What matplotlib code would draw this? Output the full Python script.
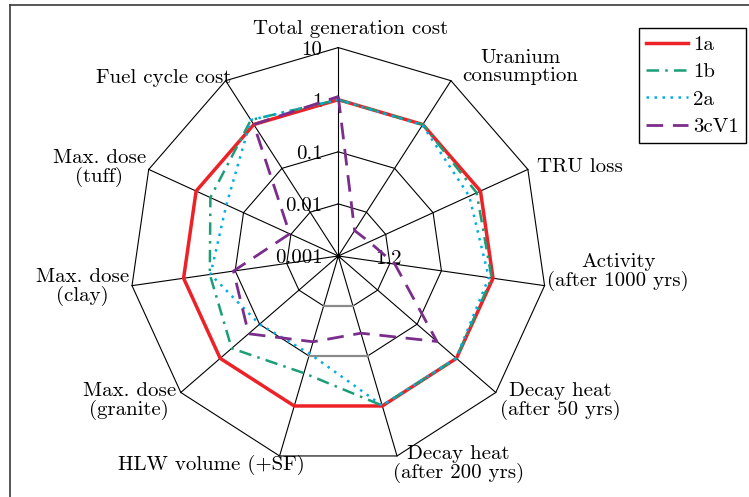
import numpy as np
import matplotlib
matplotlib.use('Agg')
import matplotlib.pyplot as plt

# axes of the spider chart, clockwise from the top
categories = ['Total generation cost', 'Uranium\nconsumption', 'TRU loss',
              'Activity\n(after 1000 yrs)', 'Decay heat\n(after 50 yrs)',
              'Decay heat\n(after 200 yrs)', 'HLW volume (+SF)',
              'Max. dose\n(granite)', 'Max. dose\n(clay)', 'Max. dose\n(tuff)',
              'Fuel cycle cost']

series_names = ['1a', '1b', '2a', '3cV1']
vals_1a = [1.0, 1.0, 1.0, 1.0, 1.0, 1.0, 1.0, 1.0, 1.0, 1.0, 1.0]
vals_1b = [1.0, 1.0, 0.83, 0.94, 1.0, 0.98, 0.22, 0.51, 0.31, 0.5, 1.27]
vals_2a = [1.0, 0.97, 0.58, 0.83, 0.98, 0.98, 0.09, 0.1, 0.3, 0.23, 1.27]
vals_3cV1 = [1.15, 0.0038, 0.0045, 0.0125, 0.32, 0.035, 0.052, 0.19, 0.108, 0.0106, 1.0]

ring_values = [10, 0.1, 0.01]
tick_values = [10, 1, 0.1, 0.01, 0.001]
tick_labels = ['10', '1', '0.1', '0.01', '0.001']

# label centres (pixels relative to chart centre, y up)
label_xy = [(12, 227), (182, 189), (242, 89), (280, -16), (222, -145),
            (120, -208), (-127, -209), (-209, -145), (-256, -31),
            (-239, 88), (-175, 178)]

colors = ['#ec2227', '#1b9e77', '#00aee6', '#7b2d8b']
widths = [2.5, 1.8, 1.8, 2.0]
dashes = [(None), (5, 2.5, 1, 2.5), (1, 2.2), (6, 3.5)]

DEC = 52.1      # pixels per decade
VMIN = 0.001    # value at the centre
FS = 15

def radius(v):
    return DEC * (np.log10(v) - np.log10(VMIN))

n = len(categories)
theta = np.pi / 2 - 2 * np.pi * np.arange(n) / n

def to_xy(values):
    r = radius(np.asarray(values, dtype=float))
    x = r * np.cos(theta)
    y = r * np.sin(theta)
    return np.append(x, x[0]), np.append(y, y[0])

plt.rcParams['font.family'] = ['cmr10', 'DejaVu Serif']
plt.rcParams['axes.unicode_minus'] = False

fig = plt.figure(figsize=(7.49, 4.97), dpi=100)
# axes box: top/left border visible, right/bottom run off the figure
ax = fig.add_axes([10 / 749, -10 / 497, 754 / 749, 502 / 497])
ax.set_xlim(-328.3, 425.7)
ax.set_ylim(-251, 251)
ax.set_xticks([])
ax.set_yticks([])
for s in ax.spines.values():
    s.set_linewidth(1.2)
    s.set_color('#3a3a3a')

# rings
for rv in ring_values:
    gx, gy = to_xy([rv] * n)
    ax.plot(gx, gy, color='black', lw=0.8, zorder=1)
# grey ring pieces between HLW volume and Decay heat (200 yrs)
for rv in [0.1, 0.01]:
    gx, gy = to_xy([rv] * n)
    ax.plot(gx[5:7], gy[5:7], color='#8a8a8a', lw=1.6, zorder=1.5)

# spokes
R = radius(ring_values[0])
for t in theta:
    ax.plot([0, R * np.cos(t)], [0, R * np.sin(t)], color='black', lw=0.8, zorder=1)
ax.plot([0], [0], 'o', color='black', ms=2, zorder=1)

# radial tick labels along the top spoke
for v, lab in zip(tick_values, tick_labels):
    ax.text(-16, radius(v) - 2, lab, ha='right', va='center', fontsize=FS, zorder=2)
ax.text(50, -3, '1.2', ha='center', va='center', fontsize=FS, zorder=2)

# category labels
for lab, (lx, ly) in zip(categories, label_xy):
    ax.text(lx, ly, lab, ha='center', va='center', multialignment='center',
            fontsize=FS, linespacing=1.0)

# data
all_vals = [vals_1a, vals_1b, vals_2a, vals_3cV1]
for name, vals, c, w, d in zip(series_names, all_vals, colors, widths, dashes):
    x, y = to_xy(vals)
    line, = ax.plot(x, y, color=c, lw=w, label=name, zorder=3)
    if d is not None:
        line.set_dashes(d)

leg = ax.legend(loc='upper right', bbox_to_anchor=(746 / 749, 1 - 28 / 497),
                bbox_transform=fig.transFigure, fontsize=FS, frameon=True,
                fancybox=False, framealpha=1, edgecolor='black',
                handlelength=2.0, handletextpad=0.25, labelspacing=0.42,
                borderpad=0.35, borderaxespad=0)
leg.get_frame().set_linewidth(1.0)

fig.savefig('out.png', dpi=100)
